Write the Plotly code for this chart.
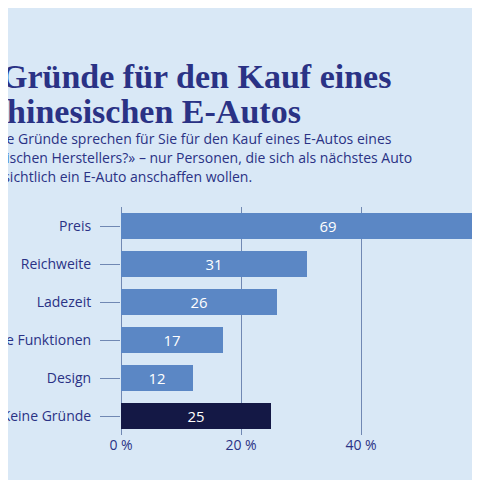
import plotly.graph_objects as go

categories = ["Preis", "Reichweite", "Ladezeit", "Technische Funktionen", "Design", "Keine Gründe"]
values = [69, 31, 26, 17, 12, 25]
colors = ["#5b87c5"] * 5 + ["#141845"]
tick_vals = [0, 20, 40, 60, 80]
tick_text = ["0 %", "20 %", "40 %", "60 %", "80 %"]

BG = "#d9e8f6"
NAVY = "#2a3285"
GRID = "#7088b3"
L = 113
PW = 480 - L


def px(xp):
    return (xp - L) / PW


fig = go.Figure(go.Bar(
    x=values, y=categories, orientation="h",
    marker=dict(color=colors, line=dict(width=0)),
    width=0.68,
    text=[str(v) for v in values], textposition="inside", textangle=0,
    insidetextanchor="middle",
    textfont=dict(color="white", size=15, family="Open Sans"),
))

# title and subtitle are right-aligned lines, cut off at the left like the reference
title_lines = [("Gründe für den Kauf eines", 385, 68), ("chinesischen E-Autos", 295, 103)]
for txt, right, y in title_lines:
    fig.add_annotation(text=f"<b>{txt}</b>", xref="paper", yref="paper", x=px(right), y=0,
                       xanchor="right", yanchor="middle", showarrow=False,
                       font=dict(family="Liberation Serif", size=34, color=NAVY),
                       yshift=480 - y)

sub_lines = [("«Welche Gründe sprechen für Sie für den Kauf eines E-Autos eines", 386, 130),
             ("chinesischen Herstellers?» – nur Personen, die sich als nächstes Auto", 406, 149),
             ("voraussichtlich ein E-Auto anschaffen wollen.", 246, 168)]
for txt, right, y in sub_lines:
    fig.add_annotation(text=txt, xref="paper", yref="paper", x=px(right), y=0,
                       xanchor="right", yanchor="middle", showarrow=False,
                       font=dict(family="Open Sans", size=14, color=NAVY),
                       yshift=480 - y)

fig.update_layout(
    width=480, height=480,
    margin=dict(l=L, r=0, t=199, b=0, autoexpand=False),
    paper_bgcolor=BG, plot_bgcolor=BG,
    showlegend=False,
    xaxis=dict(range=[0, PW / 6], tickvals=tick_vals, ticktext=tick_text,
               showgrid=True, gridcolor=GRID, gridwidth=1, zeroline=True,
               zerolinecolor=GRID, zerolinewidth=1, automargin=False,
               tickfont=dict(family="Open Sans", size=14, color=NAVY),
               fixedrange=True, anchor="y"),
    yaxis=dict(autorange="reversed", ticks="outside", ticklen=20, tickcolor=GRID,
               tickfont=dict(family="Open Sans", size=14, color=NAVY),
               ticklabelstandoff=6, showgrid=False, automargin=False,
               domain=[53 / 281, 1]),
)
fig.write_html("out.html")
